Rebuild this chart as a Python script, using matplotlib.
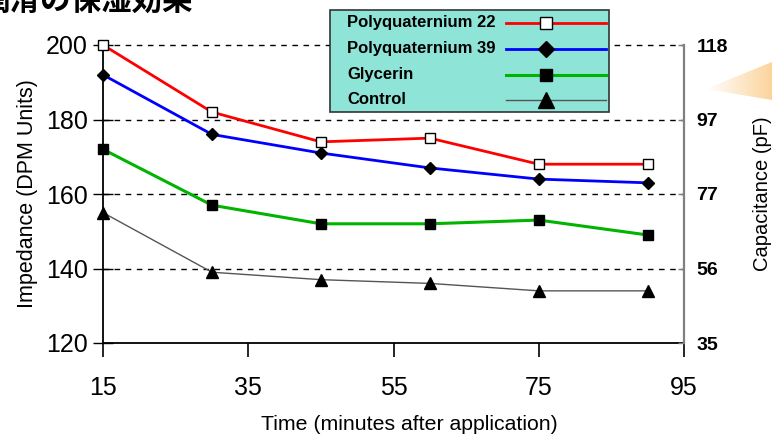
import matplotlib
matplotlib.use("Agg")
import matplotlib.pyplot as plt
import numpy as np
from matplotlib.patches import Polygon, Rectangle
from matplotlib.lines import Line2D
from matplotlib.colors import LinearSegmentedColormap

plt.rcParams['font.family'] = ['Liberation Sans', 'DejaVu Sans']

# ---- data ----
times = [15, 30, 45, 60, 75, 90]
pq22 = [200, 182, 174, 175, 168, 168]
pq39 = [192, 176, 171, 167, 164, 163]
glycerin = [172, 157, 152, 152, 153, 149]
control = [155, 139, 137, 136, 134, 134]
series_names = ["Polyquaternium 22", "Polyquaternium 39", "Glycerin", "Control"]
x_ticks = [15, 35, 55, 75, 95]
y_ticks = [120, 140, 160, 180, 200]
right_tick_labels = ["35", "56", "77", "97", "118"]
title_text = "潤滑の保湿効果"

W, H = 772, 437
fig = plt.figure(figsize=(W / 100, H / 100), dpi=100)
ax = fig.add_axes([103 / W, 1 - 343 / H, (684 - 103) / W, (343 - 45) / H])

# decorative orange triangle with gradient at right edge
bg = fig.add_axes([0, 0, 1, 1], zorder=-5)
bg.set_xlim(0, W)
bg.set_ylim(H, 0)
bg.axis('off')
grad = np.linspace(0, 1, 100).reshape(1, -1)
cmap = LinearSegmentedColormap.from_list('o', ['#FFFFFF', '#FBD49C'])
im = bg.imshow(grad, extent=[706, 772, 102, 60], cmap=cmap, aspect='auto', zorder=0)
tri = Polygon([[706, 89], [772, 62], [772, 100]], closed=True, transform=bg.transData,
              facecolor='none', edgecolor='none')
bg.add_patch(tri)
im.set_clip_path(tri)

ax.set_xlim(15, 95)
ax.set_ylim(120, 200)

# grid
for yv in [140, 160, 180, 200]:
    ax.axhline(yv, color='black', lw=1.0, ls=(0, (4, 4)), zorder=1, clip_on=False)

styles = [
    dict(color='#FF0000', lw=2.0, marker='s', mfc='white', mec='black', mew=1.0),
    dict(color='#0000FF', lw=2.0, marker='D', mfc='black', mec='black', mew=1.0),
    dict(color='#00B400', lw=2.2, marker='s', mfc='black', mec='black', mew=1.0),
    dict(color='#555555', lw=1.0, marker='^', mfc='black', mec='black', mew=1.0),
]
plot_ms = [7, 6, 7, 8]
legend_ms = [8, 8, 9, 12]
for vals, st, ms, nm in zip([pq22, pq39, glycerin, control], styles, plot_ms, series_names):
    ax.plot(times, vals, ms=ms, label=nm, zorder=4, clip_on=False, **st)

ax.set_xticks(x_ticks)
ax.set_yticks(y_ticks)
ax.tick_params(axis='x', direction='out', length=10, width=1.2, labelsize=18, pad=14)
ax.tick_params(axis='y', direction='inout', length=14, width=1.0, labelsize=18, pad=4)

ax.spines['top'].set_visible(False)
ax.spines['right'].set_visible(False)
ax.spines['left'].set_linewidth(1.3)
ax.spines['bottom'].set_linewidth(1.3)

ax.set_ylabel("Impedance (DPM Units)", fontsize=15.5)
ax.yaxis.set_label_coords(-75 / 581, 0.5)
ax.set_xlabel("Time (minutes after application)", fontsize=15.3)
ax.xaxis.set_label_coords((409 - 103) / 581, -(424 - 343) / 298)
ax.xaxis.label.set_va('center')
ax.yaxis.label.set_va('center')

# right axis
ax2 = ax.twinx()
ax2.set_ylim(120, 200)
ax2.set_yticks(y_ticks)
ax2.set_yticklabels(right_tick_labels, fontsize=14, fontweight='bold')
ax2.tick_params(axis='y', direction='in', length=4, width=1.0, color='#808080', pad=9)
for s in ['top', 'left', 'bottom']:
    ax2.spines[s].set_visible(False)
ax2.spines['right'].set_color('#808080')
ax2.spines['right'].set_linewidth(1.6)
ax2.set_ylabel("Capacitance (pF)", fontsize=14.5)
ax2.yaxis.set_label_coords((763 - 103) / 581, 0.5)
ax2.yaxis.label.set_va('center')

# legend (built in pixel coordinates on an overlay axes)
ov = fig.add_axes([0, 0, 1, 1], zorder=10)
ov.set_xlim(0, W)
ov.set_ylim(H, 0)
ov.axis('off')
ov.add_patch(Rectangle((330, 10), 279, 102, facecolor='#8FE4D8', edgecolor='#333333', lw=1.2))
row_y = [23, 49, 75, 100]
for nm, st, ms, yy in zip(series_names, styles, legend_ms, row_y):
    ov.text(347, yy, nm, fontsize=12, fontweight='bold', va='center', ha='left')
    ov.add_line(Line2D([506, 606], [yy, yy], color=st['color'], lw=st['lw']))
    ov.add_line(Line2D([546], [yy], marker=st['marker'], ms=ms, mfc=st['mfc'],
                       mec=st['mec'], mew=st['mew'], ls='none'))

# title (partially cropped at top)
fig.text(-21 / W, 1 - 10 / H, title_text, fontsize=22, fontweight='bold',
         family=['Noto Sans CJK JP', 'DejaVu Sans'], va='baseline', ha='left')

fig.savefig("out.png", dpi=100)
